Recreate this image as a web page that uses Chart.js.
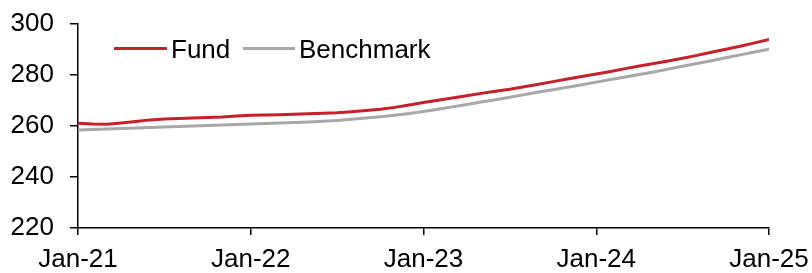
<!DOCTYPE html>
<html>
<head>
<meta charset="utf-8">
<script src="https://cdn.jsdelivr.net/npm/chart.js@4/dist/chart.umd.min.js"></script>
<style>
  html, body { margin: 0; padding: 0; background: #fff; }
  #wrap { position: relative; width: 812px; height: 273px; }
  canvas { display: block; }
  .leg { position: absolute; font-family: "Liberation Sans", Arial, sans-serif; font-size: 26px; line-height: 30px; color: #000; white-space: nowrap; }
  .sw { position: absolute; height: 3px; }
</style>
</head>
<body>
<div id="wrap">
  <canvas id="c" width="812" height="273"></canvas>
  <div class="sw" style="left:114px; top:47px; width:53px; background:#C8202B;"></div>
  <div class="leg" style="left:171px; top:34px;">Fund</div>
  <div class="sw" style="left:243px; top:47px; width:52px; background:#A8A8A8;"></div>
  <div class="leg" style="left:299px; top:34px;">Benchmark</div>
</div>
<script>
// Monthly index (0 = Jan-21 ... 48 = Jan-25)
const months = Array.from({length: 49}, (_, i) => i);
const tickLabels = ['Jan-21', 'Jan-22', 'Jan-23', 'Jan-24', 'Jan-25'];
const fund = [
  261.1, 260.8, 260.7, 261.2, 261.8, 262.4, 262.7, 262.9, 263.1, 263.3, 263.5, 263.9,
  264.2, 264.3, 264.4, 264.6, 264.8, 265.0, 265.2, 265.6, 266.1, 266.6, 267.3, 268.2,
  269.2, 270.1, 271.0, 271.9, 272.8, 273.6, 274.4, 275.4, 276.4, 277.4, 278.4, 279.4,
  280.4, 281.4, 282.5, 283.5, 284.5, 285.5, 286.6, 287.7, 288.9, 290.1, 291.3, 292.6,
  293.9
];
const benchmark = [
  258.4, 258.6, 258.8, 259.0, 259.2, 259.4, 259.6, 259.8, 260.0, 260.2, 260.4, 260.6,
  260.8, 261.0, 261.2, 261.4, 261.6, 261.9, 262.2, 262.6, 263.1, 263.6, 264.2, 264.9,
  265.7, 266.6, 267.5, 268.4, 269.4, 270.3, 271.3, 272.3, 273.3, 274.2, 275.2, 276.2,
  277.2, 278.2, 279.2, 280.2, 281.2, 282.3, 283.4, 284.5, 285.6, 286.8, 287.9, 289.0,
  290.1
];
const seriesNames = ['Fund', 'Benchmark'];

const toXY = arr => arr.map((v, i) => ({x: months[i], y: v}));
const font = {family: '"Liberation Sans", Arial, sans-serif', size: 26};

new Chart(document.getElementById('c'), {
  type: 'line',
  data: {
    datasets: [
      {label: seriesNames[1], data: toXY(benchmark), borderColor: '#A8A8A8', borderWidth: 3, pointRadius: 0, tension: 0},
      {label: seriesNames[0], data: toXY(fund), borderColor: '#C8202B', borderWidth: 3, pointRadius: 0, tension: 0}
    ]
  },
  options: {
    responsive: false,
    animation: false,
    events: [],
    layout: {padding: {top: 24, left: 11, right: 43, bottom: 0}},
    plugins: {legend: {display: false}, tooltip: {enabled: false}},
    scales: {
      x: {
        type: 'linear', min: 0, max: 48,
        afterFit: s => { s.height = 45; s.paddingLeft = 0; s.paddingRight = 0; },
        ticks: {
          stepSize: 12, color: '#000', font: font, padding: 9, maxRotation: 0, autoSkip: false,
          callback: v => tickLabels[v / 12]
        },
        grid: {display: true, drawOnChartArea: false, drawTicks: true, tickLength: 7, color: '#000', lineWidth: 1.5},
        border: {display: true, color: '#000', width: 1.5}
      },
      y: {
        min: 220, max: 300,
        afterFit: s => { s.width = 67; s.paddingTop = 0; s.paddingBottom = 0; },
        ticks: {stepSize: 20, color: '#000', font: font, padding: 16},
        grid: {display: true, drawOnChartArea: false, drawTicks: true, tickLength: 8, color: '#000', lineWidth: 1.5},
        border: {display: true, color: '#000', width: 1.5}
      }
    }
  }
});
</script>
</body>
</html>
